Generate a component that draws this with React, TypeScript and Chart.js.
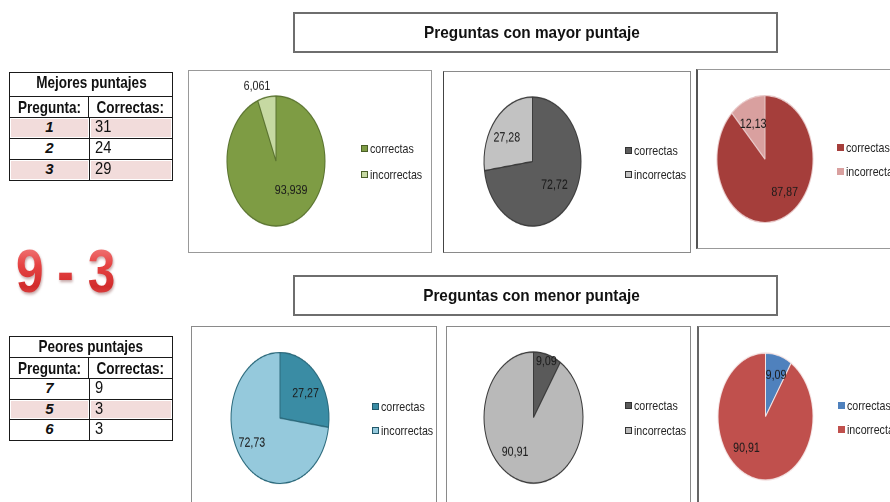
import { useEffect, useRef } from 'react';
import type { ReactNode } from 'react';
import { Chart, registerables } from 'chart.js';

Chart.register(...registerables);

// ---- data ----
const sliceLabels = ['correctas', 'incorrectas'];

const bestQuestions = ['1', '2', '3'];
const bestCorrect = [31, 24, 29];
const worstQuestions = ['7', '5', '6'];
const worstCorrect = [9, 3, 3];

const bestPie1 = [93.939, 6.061];
const bestPie2 = [72.72, 27.28];
const bestPie3 = [87.87, 12.13];
const worstPie1 = [27.27, 72.73];
const worstPie2 = [9.09, 90.91];
const worstPie3 = [9.09, 90.91];

const scoreLine = '9 - 3';
const topTitle = 'Preguntas con mayor puntaje';
const bottomTitle = 'Preguntas con menor puntaje';

// ---- styling / layout ----
const SANS = '"Liberation Sans", Arial, sans-serif';
const NARROW_X = 0.82; // horizontal squeeze used to get a narrow face
const SMALL_X = 0.82;

type PieCfg = {
  values: number[];
  colors: string[];
  border: string;
  swatchBorder: string | null;
  cx: number;
  cy: number;
  rx: number;
  ry: number;
  // label anchor per slice: [degrees clockwise from 12 o'clock, fraction of radius]
  labelAt: [number, number][];
  legendX: number;
  legendY: [number, number];
  box: { left: number; top: number; width: number; height: number; border: string; borderLeft?: string };
};

const pies: PieCfg[] = [
  {
    values: bestPie1,
    colors: ['#7e9c44', '#c6d9a2'],
    border: '#5a7330',
    swatchBorder: '#4a5e28',
    cx: 276, cy: 161, rx: 49, ry: 65,
    labelAt: [[146, 0.55], [-18.7, 1.21]],
    legendX: 361, legendY: [148, 174],
    box: { left: 188, top: 70, width: 244, height: 183, border: '1px solid #999' },
  },
  {
    values: bestPie2,
    colors: ['#5c5c5c', '#c2c2c2'],
    border: '#3c3c3c',
    swatchBorder: '#333',
    cx: 532.5, cy: 161.5, rx: 48.5, ry: 64.5,
    labelAt: [[128.7, 0.58], [-55.8, 0.64]],
    legendX: 625, legendY: [150.5, 174],
    box: { left: 443, top: 71, width: 248, height: 182, border: '1px solid #8a8a8a', borderLeft: '1px solid #444' },
  },
  {
    values: bestPie3,
    colors: ['#a53e3b', '#d9a09f'],
    border: '#e8c8c8',
    swatchBorder: null,
    cx: 765, cy: 158.5, rx: 48, ry: 63.5,
    labelAt: [[142.3, 0.67], [-24.4, 0.6]],
    legendX: 837, legendY: [147.5, 171],
    box: { left: 696, top: 69, width: 210, height: 180, border: '1px solid #999', borderLeft: '2px solid #555' },
  },
  {
    values: worstPie1,
    colors: ['#3a8ca4', '#95c9dc'],
    border: '#2c6a7c',
    swatchBorder: '#22586a',
    cx: 280, cy: 417.5, rx: 49, ry: 65.5,
    labelAt: [[54.6, 0.64], [236.3, 0.69]],
    legendX: 372, legendY: [406, 430],
    box: { left: 191, top: 326, width: 246, height: 200, border: '1px solid #8a8a8a' },
  },
  {
    values: worstPie2,
    colors: ['#5a5a5a', '#b9b9b9'],
    border: '#3a3a3a',
    swatchBorder: '#333',
    cx: 533.5, cy: 417.5, rx: 49.5, ry: 65.5,
    labelAt: [[17, 0.89], [214.9, 0.65]],
    legendX: 625, legendY: [405, 430],
    box: { left: 446, top: 326, width: 245, height: 200, border: '1px solid #8a8a8a' },
  },
  {
    values: worstPie3,
    colors: ['#4f81bd', '#c0504d'],
    border: '#f4e4e4',
    swatchBorder: null,
    cx: 765.5, cy: 416.5, rx: 47.5, ry: 63.5,
    labelAt: [[19, 0.68], [218.7, 0.64]],
    legendX: 838, legendY: [405, 429],
    box: { left: 697, top: 326, width: 210, height: 200, border: '1px solid #888', borderLeft: '2px solid #666' },
  },
];

const fmtValue = (v: number) => String(v).replace('.', ',');

// Inline text squeezed horizontally around the given origin.
function Squeeze({ k, origin = 'center', children }: { k: number; origin?: string; children: ReactNode }) {
  return (
    <span style={{ display: 'inline-block', transform: `scaleX(${k})`, transformOrigin: `${origin} center` }}>
      {children}
    </span>
  );
}

function PieChart({ cfg }: { cfg: PieCfg }) {
  const ref = useRef<HTMLCanvasElement>(null);
  const pad = 30;
  const size = Math.round(cfg.rx * 2 + pad * 2);
  const sy = cfg.ry / cfg.rx;

  useEffect(() => {
    if (!ref.current) return;
    const valuePlugin = {
      id: 'sliceValues',
      afterDatasetsDraw(chart: any) {
        const ctx = chart.ctx as CanvasRenderingContext2D;
        const meta = chart.getDatasetMeta(0);
        meta.data.forEach((arc: any, i: number) => {
          const { x, y, outerRadius } = arc.getProps(['x', 'y', 'outerRadius'], true);
          const [deg, r] = cfg.labelAt[i];
          const a = ((deg - 90) * Math.PI) / 180;
          const lx = x + Math.cos(a) * r * outerRadius;
          const ly = y + Math.sin(a) * r * outerRadius;
          ctx.save();
          ctx.translate(lx, ly);
          ctx.scale(SMALL_X, 1 / sy);
          ctx.font = `13px ${SANS}`;
          ctx.fillStyle = '#1a1a1a';
          ctx.textAlign = 'center';
          ctx.textBaseline = 'middle';
          ctx.fillText(fmtValue(cfg.values[i]), 0, 0);
          ctx.restore();
        });
      },
    };
    const chart = new Chart(ref.current, {
      type: 'pie',
      data: {
        labels: sliceLabels,
        datasets: [
          {
            data: cfg.values,
            backgroundColor: cfg.colors,
            borderColor: cfg.border,
            borderWidth: 1,
            radius: cfg.rx,
          } as any,
        ],
      },
      options: {
        animation: false,
        responsive: false,
        devicePixelRatio: 2,
        events: [],
        layout: { padding: 0 },
        plugins: { legend: { display: false }, tooltip: { enabled: false } },
      },
      plugins: [valuePlugin],
    });
    return () => chart.destroy();
  }, []);

  return (
    <div
      style={{
        position: 'absolute',
        left: cfg.cx - size / 2,
        top: cfg.cy - size / 2,
        width: size,
        height: size,
        transform: `scaleY(${sy})`,
        transformOrigin: 'center center',
      }}
    >
      <canvas ref={ref} width={size} height={size} style={{ display: 'block' }} />
    </div>
  );
}

function PieLegend({ cfg }: { cfg: PieCfg }) {
  return (
    <>
      {sliceLabels.map((label, i) => (
        <div
          key={label}
          style={{
            position: 'absolute',
            left: cfg.legendX,
            top: cfg.legendY[i] - 8,
            height: 16,
            display: 'flex',
            alignItems: 'center',
            whiteSpace: 'nowrap',
            font: `13px ${SANS}`,
            color: '#262626',
          }}
        >
          <span
            style={{
              display: 'inline-block',
              boxSizing: 'border-box',
              width: 7,
              height: 7,
              marginRight: 2,
              background: cfg.colors[i],
              border: cfg.swatchBorder ? `1px solid ${cfg.swatchBorder}` : 'none',
            }}
          />
          <Squeeze k={SMALL_X} origin="left">{label}</Squeeze>
        </div>
      ))}
    </>
  );
}

function TitleBox({ top, text }: { top: number; text: string }) {
  return (
    <div
      style={{
        position: 'absolute',
        left: 293,
        top,
        width: 485,
        height: 41,
        boxSizing: 'border-box',
        border: '2px solid #6e6e6e',
        background: '#fff',
        display: 'flex',
        alignItems: 'center',
        justifyContent: 'center',
        font: `bold 16.5px ${SANS}`,
        color: '#111',
        paddingRight: 8,
      }}
    >
      <Squeeze k={0.93}>{text}</Squeeze>
    </div>
  );
}

function ScoreTable({
  left,
  top,
  title,
  questions,
  correct,
  rowHeights,
  pinkRows,
}: {
  left: number;
  top: number;
  title: string;
  questions: string[];
  correct: number[];
  rowHeights: number[];
  pinkRows: number[];
}) {
  const line = '1px solid #1a1a1a';
  const colW = 79;
  const pinkBg = { background: '#f2dcdb', boxShadow: 'inset 0 0 0 1px #fff' };
  return (
    <div
      style={{
        position: 'absolute',
        left,
        top,
        width: 164,
        boxSizing: 'border-box',
        border: line,
        background: '#fff',
        color: '#111',
      }}
    >
      <div
        style={{
          height: rowHeights[0],
          lineHeight: `${rowHeights[0]}px`,
          textAlign: 'center',
          font: `bold 16.5px ${SANS}`,
        }}
      >
        <Squeeze k={NARROW_X}>{title}</Squeeze>
      </div>
      <div style={{ display: 'flex', height: rowHeights[1], borderTop: line, font: `bold 16.5px ${SANS}` }}>
        <div style={{ width: colW, borderRight: line, textAlign: 'center', lineHeight: `${rowHeights[1]}px` }}>
          <Squeeze k={NARROW_X}>Pregunta:</Squeeze>
        </div>
        <div style={{ flex: 1, textAlign: 'center', lineHeight: `${rowHeights[1]}px` }}>
          <Squeeze k={NARROW_X}>Correctas:</Squeeze>
        </div>
      </div>
      {questions.map((q, i) => {
        const h = rowHeights[i + 2];
        const bg = pinkRows.includes(i) ? pinkBg : {};
        return (
          <div key={q} style={{ display: 'flex', height: h, borderTop: line }}>
            <div
              style={{
                width: colW,
                borderRight: line,
                textAlign: 'center',
                lineHeight: `${h}px`,
                font: `italic bold 15px ${SANS}`,
                ...bg,
              }}
            >
              {q}
            </div>
            <div
              style={{
                flex: 1,
                paddingLeft: 5,
                lineHeight: `${h}px`,
                font: `16px ${SANS}`,
                ...bg,
              }}
            >
              <Squeeze k={0.92} origin="left">{correct[i]}</Squeeze>
            </div>
          </div>
        );
      })}
    </div>
  );
}

export default function App() {
  return (
    <div
      style={{
        position: 'fixed',
        left: 0,
        top: 0,
        width: 890,
        height: 502,
        overflow: 'hidden',
        background: '#fff',
      }}
    >
      <TitleBox top={12} text={topTitle} />
      <TitleBox top={275} text={bottomTitle} />

      <ScoreTable
        left={9}
        top={72}
        title="Mejores puntajes"
        questions={bestQuestions}
        correct={bestCorrect}
        rowHeights={[23, 20, 20, 20, 20]}
        pinkRows={[0, 2]}
      />
      <ScoreTable
        left={9}
        top={336}
        title="Peores puntajes"
        questions={worstQuestions}
        correct={worstCorrect}
        rowHeights={[20, 20, 20, 19, 20]}
        pinkRows={[1]}
      />

      <div
        style={{
          position: 'absolute',
          left: 16,
          top: 240,
          height: 62,
          font: `bold 62px ${SANS}`,
          lineHeight: '62px',
          whiteSpace: 'pre',
          transform: 'scaleX(0.8)',
          transformOrigin: 'left center',
          background: 'linear-gradient(180deg, #f48a8a 0%, #e64444 40%, #d22c2c 75%, #e25555 100%)',
          WebkitBackgroundClip: 'text',
          backgroundClip: 'text',
          color: 'transparent',
          filter: 'drop-shadow(1px 2px 1.5px rgba(90,0,0,0.35))',
        } as any}
      >
        {scoreLine}
      </div>

      {pies.map((p, i) => (
        <div
          key={'box' + i}
          style={{
            position: 'absolute',
            left: p.box.left,
            top: p.box.top,
            width: p.box.width,
            height: p.box.height,
            boxSizing: 'border-box',
            border: p.box.border,
            borderLeft: p.box.borderLeft ?? p.box.border,
            background: '#fff',
          }}
        />
      ))}
      {pies.map((p, i) => (
        <PieChart key={'pie' + i} cfg={p} />
      ))}
      {pies.map((p, i) => (
        <PieLegend key={'leg' + i} cfg={p} />
      ))}
    </div>
  );
}
